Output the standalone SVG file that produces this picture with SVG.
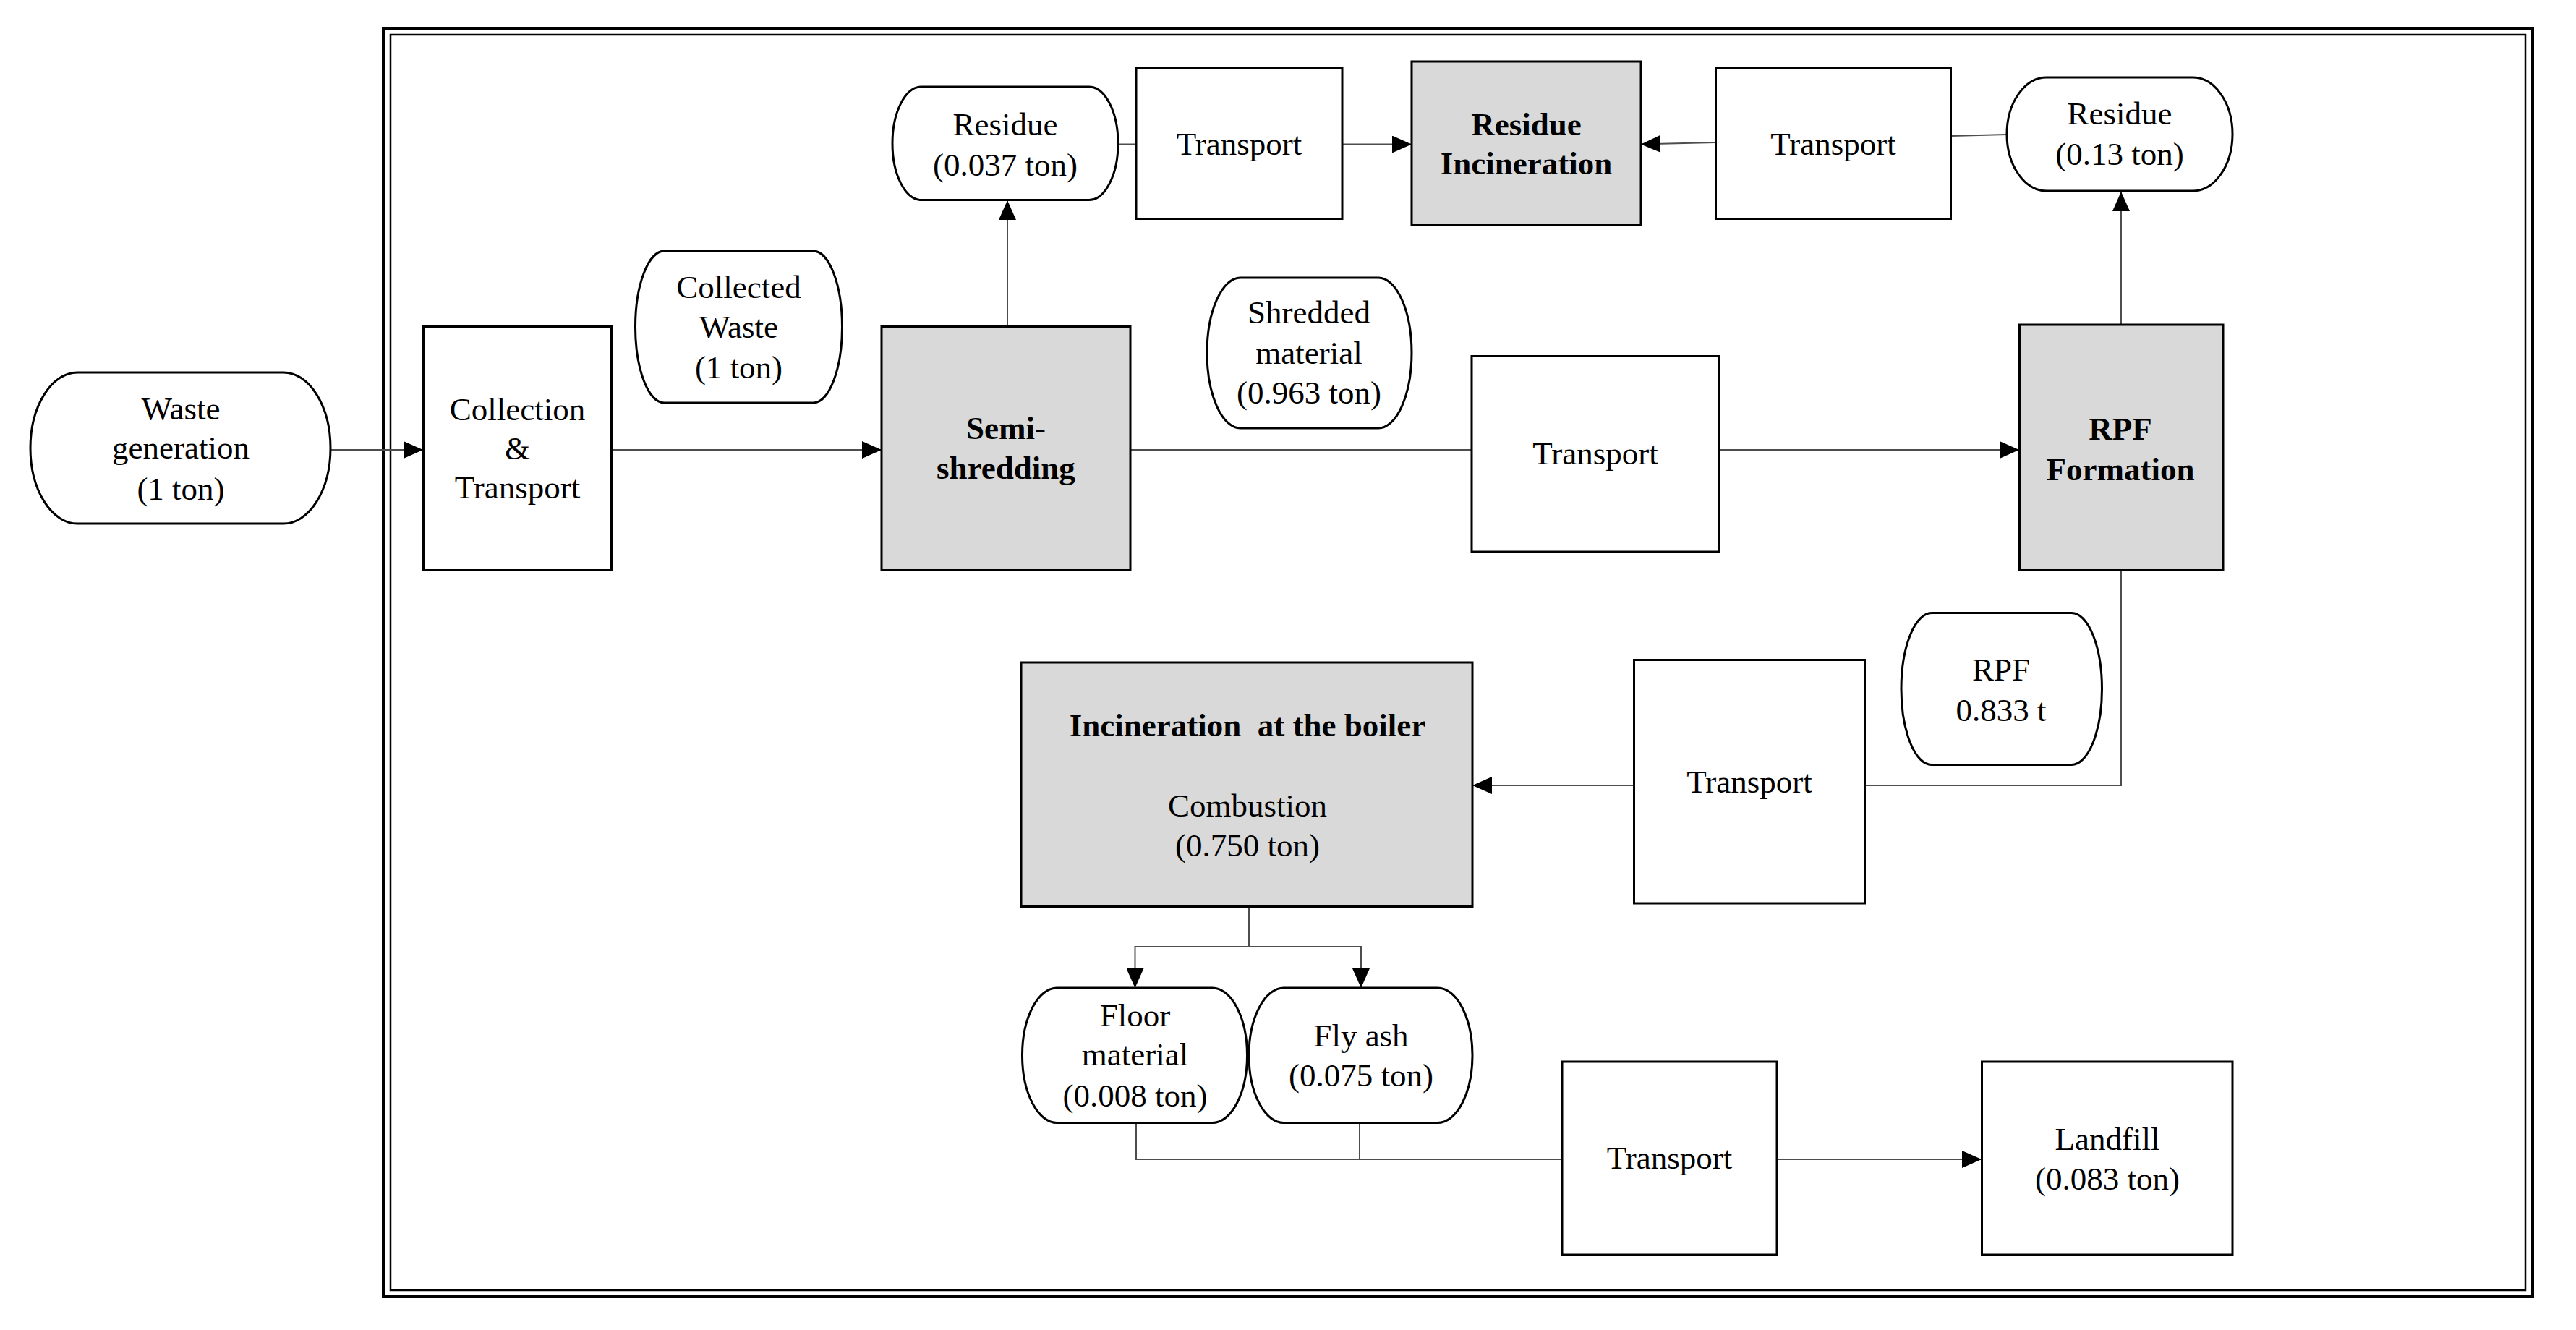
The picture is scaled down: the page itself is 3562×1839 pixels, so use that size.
<svg xmlns="http://www.w3.org/2000/svg" width="3562" height="1839" viewBox="0 0 3562 1839">
<style>
  .box { fill: #ffffff; stroke: #000000; stroke-width: 3; }
  .proc { fill: #d9d9d9; stroke: #000000; stroke-width: 3; }
  .oval { fill: #ffffff; stroke: #000000; stroke-width: 3; }
  .t { font-family: "Liberation Serif", "Times New Roman", serif; font-size: 45px; text-anchor: middle; fill: #000000; }
  .b { font-weight: bold; }
  .con { fill: none; stroke: #4d4d4d; stroke-width: 2; }
  .arr { marker-end: url(#ah); }
</style>
<defs>
  <marker id="ah" markerUnits="userSpaceOnUse" markerWidth="28" markerHeight="24" refX="27" refY="12" orient="auto">
    <path d="M0,0 L27,12 L0,24 Z" fill="#000000"/>
  </marker>
</defs>
<rect width="3562" height="1839" fill="#ffffff"/>
<g id="frame">
  <rect x="530" y="40" width="2972" height="1753" fill="none" stroke="#000" stroke-width="4"/>
  <rect x="540" y="48" width="2952" height="1736" fill="none" stroke="#000" stroke-width="2.5"/>
</g>
<g id="connectors">
  <path class="con arr" d="M457,622 H585"/>
  <path class="con arr" d="M846,622 H1219"/>
  <path class="con arr" d="M1393,451 V277"/>
  <path class="con" d="M1546,199.5 H1571"/>
  <path class="con arr" d="M1856,199.5 H1952"/>
  <path class="con arr" d="M2372,197 L2269,199.5"/>
  <path class="con" d="M2775,186 L2698,188"/>
  <path class="con arr" d="M2933,449 V265"/>
  <path class="con" d="M1563,622 H2035"/>
  <path class="con arr" d="M2377,622 H2792"/>
  <path class="con" d="M2933,789 V1086 H2579"/>
  <path class="con arr" d="M2259,1086 H2036"/>
  <path class="con arr" d="M1727,1254 V1309 H1569.5 V1366"/>
  <path class="con arr" d="M1727,1309 H1882 V1366"/>
  <path class="con" d="M1571,1552 V1603 H2160"/>
  <path class="con" d="M1880,1552 V1603"/>
  <path class="con arr" d="M2457,1603 H2740"/>
</g>
<g id="waste-generation">
  <rect class="oval" x="42" y="515" width="415" height="209" rx="65" ry="104.5"/>
  <text class="t" x="250" y="580">Waste</text>
  <text class="t" x="250" y="634">generation</text>
  <text class="t" x="250" y="691">(1 ton)</text>
</g>
<g id="collection-transport">
  <rect class="box" x="585.5" y="451.5" width="260" height="337"/>
  <text class="t" x="715.5" y="581">Collection</text>
  <text class="t" x="715.5" y="635">&amp;</text>
  <text class="t" x="715.5" y="689">Transport</text>
</g>
<g id="collected-waste">
  <rect class="oval" x="878.5" y="347" width="286" height="210" rx="40" ry="105"/>
  <text class="t" x="1021.5" y="412">Collected</text>
  <text class="t" x="1021.5" y="467">Waste</text>
  <text class="t" x="1021.5" y="523">(1 ton)</text>
</g>
<g id="semi-shredding">
  <rect class="proc" x="1219" y="451.5" width="344" height="337"/>
  <text class="t b" x="1391" y="607">Semi-</text>
  <text class="t b" x="1391" y="662">shredding</text>
</g>
<g id="residue-1">
  <rect class="oval" x="1234" y="120" width="312" height="156.5" rx="40" ry="78"/>
  <text class="t" x="1390" y="187">Residue</text>
  <text class="t" x="1390" y="243">(0.037 ton)</text>
</g>
<g id="transport-1">
  <rect class="box" x="1571" y="94" width="285" height="208.5"/>
  <text class="t" x="1713.5" y="214">Transport</text>
</g>
<g id="residue-incineration">
  <rect class="proc" x="1952" y="85" width="317" height="226.5"/>
  <text class="t b" x="2110.5" y="187">Residue</text>
  <text class="t b" x="2110.5" y="241">Incineration</text>
</g>
<g id="transport-3">
  <rect class="box" x="2372.5" y="94" width="325" height="208.5"/>
  <text class="t" x="2535" y="214">Transport</text>
</g>
<g id="residue-2">
  <rect class="oval" x="2775" y="107" width="312" height="157" rx="55" ry="78.5"/>
  <text class="t" x="2931" y="172">Residue</text>
  <text class="t" x="2931" y="228">(0.13 ton)</text>
</g>
<g id="shredded-material">
  <rect class="oval" x="1669" y="384" width="283" height="208" rx="46" ry="104"/>
  <text class="t" x="1810" y="447">Shredded</text>
  <text class="t" x="1810" y="503">material</text>
  <text class="t" x="1810" y="558">(0.963 ton)</text>
</g>
<g id="transport-2">
  <rect class="box" x="2035" y="492.5" width="342" height="270.5"/>
  <text class="t" x="2206" y="642">Transport</text>
</g>
<g id="rpf-formation">
  <rect class="proc" x="2792.5" y="449" width="281.5" height="339.5"/>
  <text class="t b" x="2932" y="608">RPF</text>
  <text class="t b" x="2932" y="664">Formation</text>
</g>
<g id="rpf">
  <rect class="oval" x="2629" y="847.5" width="277.5" height="210" rx="42" ry="105"/>
  <text class="t" x="2767" y="941">RPF</text>
  <text class="t" x="2767" y="997">0.833 t</text>
</g>
<g id="transport-4">
  <rect class="box" x="2259.5" y="912.5" width="319" height="336.5"/>
  <text class="t" x="2419" y="1096">Transport</text>
</g>
<g id="incineration-boiler">
  <rect class="proc" x="1412" y="916" width="624" height="337.5"/>
  <text class="t b" x="1725" y="1018" xml:space="preserve">Incineration  at the boiler</text>
  <text class="t" x="1725" y="1129">Combustion</text>
  <text class="t" x="1725" y="1184">(0.750 ton)</text>
</g>
<g id="floor-material">
  <rect class="oval" x="1413.5" y="1366" width="311" height="186.5" rx="48" ry="93"/>
  <text class="t" x="1569.5" y="1419">Floor</text>
  <text class="t" x="1569.5" y="1473">material</text>
  <text class="t" x="1569.5" y="1530">(0.008 ton)</text>
</g>
<g id="fly-ash">
  <rect class="oval" x="1727" y="1366" width="309" height="186.5" rx="48" ry="93"/>
  <text class="t" x="1882" y="1447">Fly ash</text>
  <text class="t" x="1882" y="1502">(0.075 ton)</text>
</g>
<g id="transport-5">
  <rect class="box" x="2160" y="1468" width="297" height="267"/>
  <text class="t" x="2308.5" y="1616">Transport</text>
</g>
<g id="landfill">
  <rect class="box" x="2740.5" y="1468" width="346.5" height="267"/>
  <text class="t" x="2914" y="1590">Landfill</text>
  <text class="t" x="2914" y="1645">(0.083 ton)</text>
</g>
</svg>
